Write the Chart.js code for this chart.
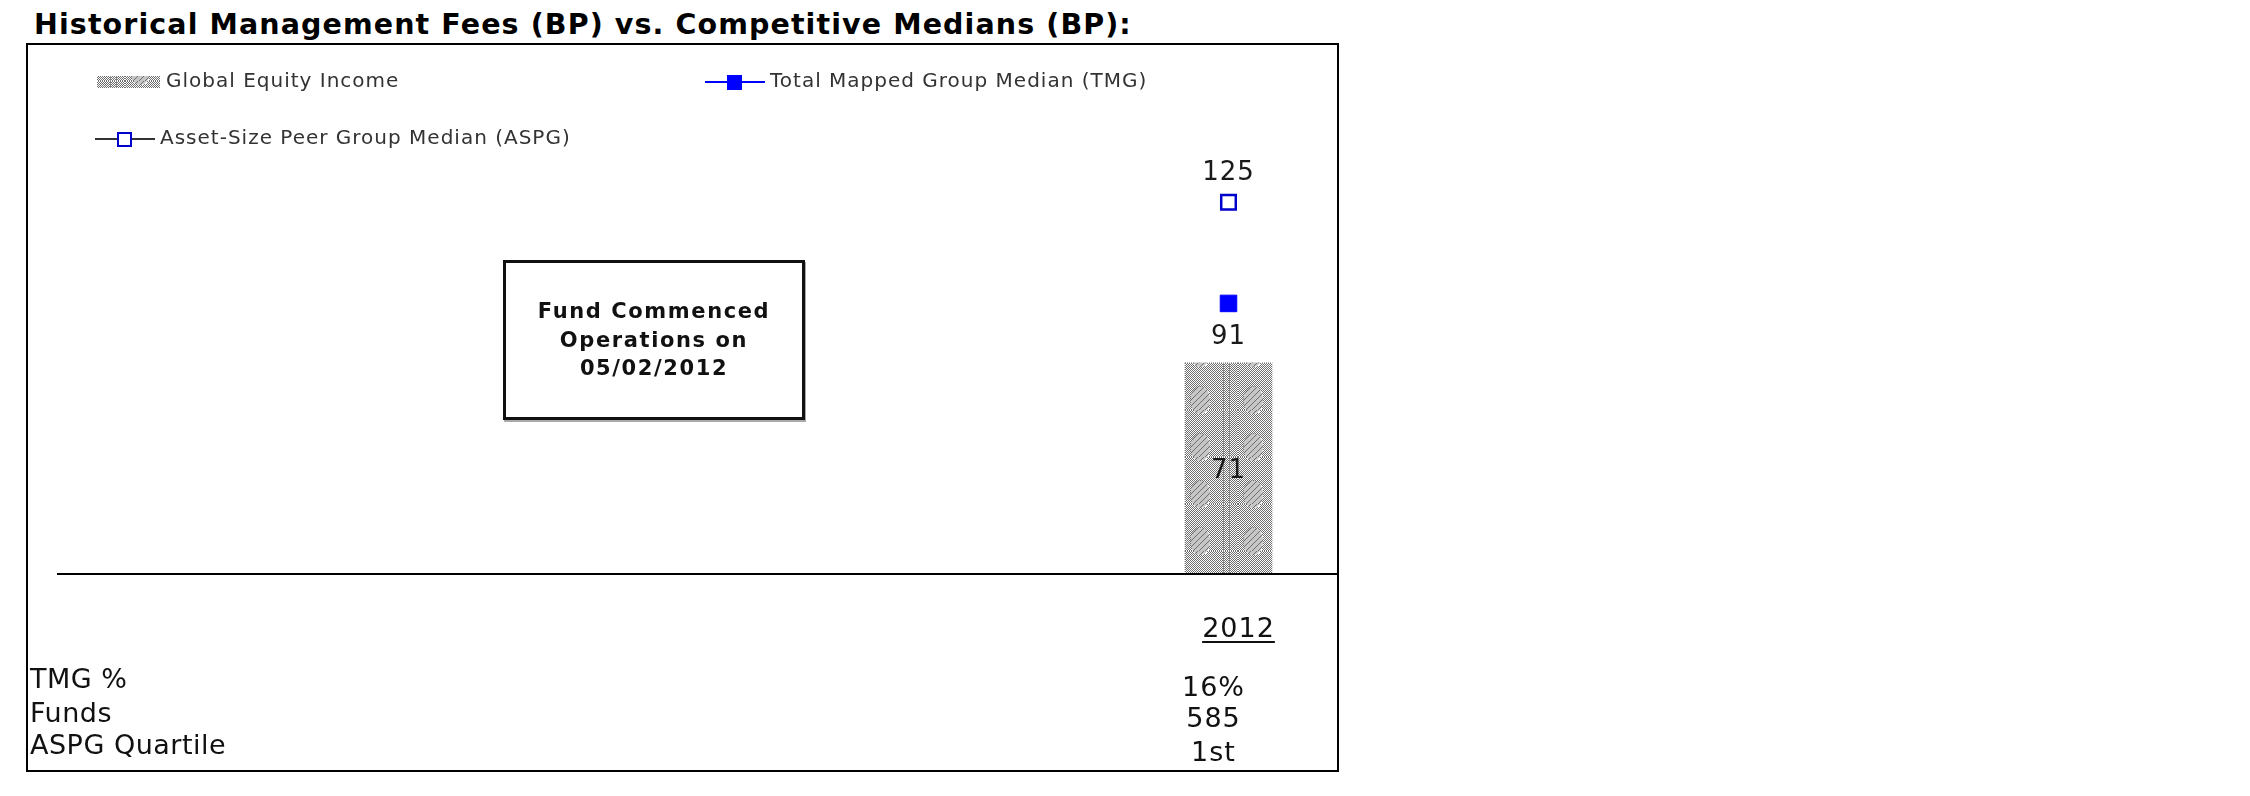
<!DOCTYPE html>
<html>
<head>
<meta charset="utf-8">
<script src="https://cdn.jsdelivr.net/npm/chart.js@4.4.1/dist/chart.umd.min.js"></script>
<style>
  html, body { margin: 0; padding: 0; background: #fff; }
  body { width: 2250px; height: 796px; position: relative; overflow: hidden; font-family: "DejaVu Sans", Verdana, sans-serif; }
  #title { position: absolute; left: 34px; top: 11px; font-size: 28.5px; line-height: 28.5px; font-weight: bold; letter-spacing: 1.1px; color: #000; white-space: nowrap; }
  #frame { position: absolute; left: 26px; top: 43px; width: 1309px; height: 725px; border: 2px solid #000; }
  #chart { position: absolute; left: 0; top: 0; }
  #note { position: absolute; left: 503px; top: 260px; width: 296px; height: 154px; border: 3px solid #111; box-shadow: 1px 2px 0 #aaa;
          display: flex; align-items: center; justify-content: center; text-align: center;
          font-weight: bold; font-size: 21px; line-height: 28.5px; letter-spacing: 1.6px; color: #111; }
</style>
</head>
<body>
<div id="title">Historical Management Fees (BP) vs. Competitive Medians (BP):</div>
<div id="frame"></div>
<canvas id="chart" width="2250" height="796"></canvas>
<div id="note">Fund Commenced<br>Operations on<br>05/02/2012</div>

<script>
// data
const years = ['2012'];
const fundFee = [71];
const tmgMedian = [91];
const aspgMedian = [125];

const rowLabels = ['TMG %', 'Funds', 'ASPG Quartile'];
const tmgPct = ['16%'];
const fundCount = ['585'];
const aspgQuartile = ['1st'];
const rowValues = [tmgPct, fundCount, aspgQuartile];

const FONT = '"DejaVu Sans", Verdana, sans-serif';

// grey dotted fill like the original bar
function makePattern() {
  const c = document.createElement('canvas');
  c.width = 53; c.height = 47;
  const g = c.getContext('2d');
  g.fillStyle = '#fff';
  g.fillRect(0, 0, c.width, c.height);
  g.fillStyle = '#c6c6c6';
  g.beginPath(); g.ellipse(15, 37, 10, 14, 0, 0, Math.PI * 2); g.fill();
  g.beginPath(); g.ellipse(15, -10, 10, 14, 0, 0, Math.PI * 2); g.fill();
  g.fillStyle = '#6e6e6e';
  for (let y = 0; y < c.height; y++) {
    for (let x = y % 2; x < c.width; x += 2) {
      const dx = (x - 15) / 10, dy1 = (y - 37) / 14, dy2 = (y + 10) / 14;
      const inBlob = dx * dx + dy1 * dy1 < 1 || dx * dx + dy2 * dy2 < 1;
      if (!inBlob || (x + y) % 6 === 0) g.fillRect(x, y, 1, 1);
    }
  }
  g.fillStyle = '#888';
  [38, 44].forEach(x => g.fillRect(x, 0, 1, c.height));
  return g.createPattern(c, 'repeat');
}
const barFill = makePattern();

// where each legend entry sits
const legendSpots = [[97, 82], [705, 82], [95, 139]];

const anchorPattern = {
  id: 'anchorPattern',
  beforeDatasetsDraw(chart) {
    const el = chart.getDatasetMeta(0).data[0];
    if (el && barFill.setTransform) {
      barFill.setTransform(new DOMMatrix([1, 0, 0, 1, Math.round(el.x - el.width / 2), Math.round(el.y)]));
    }
  }
};

const baseLine = {
  id: 'baseLine',
  afterDatasetsDraw(chart) {
    const { ctx, chartArea, scales } = chart;
    const y = Math.round(scales.y.getPixelForValue(0));
    ctx.save();
    ctx.strokeStyle = '#000';
    ctx.lineWidth = 2;
    ctx.beginPath();
    ctx.moveTo(57, y);
    ctx.lineTo(chartArea.right, y);
    ctx.stroke();
    ctx.restore();
  }
};

const valueLabels = {
  id: 'valueLabels',
  afterDatasetsDraw(chart) {
    const { ctx } = chart;
    ctx.save();
    ctx.font = '26px ' + FONT;
    ctx.letterSpacing = '1px';
    ctx.fillStyle = '#1a1a1a';
    ctx.textAlign = 'center';
    ctx.textBaseline = 'alphabetic';
    chart.data.datasets.forEach((ds, i) => {
      chart.getDatasetMeta(i).data.forEach((el, j) => {
        const y = ds.type === 'line' ? el.y : (el.y + el.base) / 2;
        ctx.fillText(String(ds.data[j]), el.x, y + ds.labelShift);
      });
    });
    ctx.restore();
  }
};

const sideLegend = {
  id: 'sideLegend',
  afterDraw(chart) {
    const { ctx } = chart;
    ctx.save();
    ctx.font = '20px ' + FONT;
    ctx.letterSpacing = '1px';
    ctx.textBaseline = 'middle';
    ctx.textAlign = 'left';
    chart.data.datasets.forEach((ds, i) => {
      const [x, y] = legendSpots[i];
      if (ds.type === 'line') {
        ctx.strokeStyle = ds.borderColor;
        ctx.lineWidth = 2;
        ctx.beginPath(); ctx.moveTo(x, y); ctx.lineTo(x + 60, y); ctx.stroke();
        ctx.fillStyle = ds.pointBackgroundColor;
        ctx.fillRect(x + 23, y - 6, 13, 13);
        ctx.strokeStyle = ds.pointBorderColor;
        ctx.lineWidth = 2;
        ctx.strokeRect(x + 23, y - 6, 13, 13);
        ctx.fillStyle = '#333';
        ctx.fillText(ds.label, x + 65, y);
      } else {
        ctx.fillStyle = barFill;
        ctx.fillRect(x, y - 6, 63, 12);
        ctx.fillStyle = '#333';
        ctx.fillText(ds.label, x + 69, y);
      }
    });
    ctx.restore();
  }
};

const underTable = {
  id: 'underTable',
  afterDraw(chart) {
    const { ctx, scales } = chart;
    ctx.save();
    ctx.fillStyle = '#111';
    ctx.textBaseline = 'alphabetic';
    years.forEach((yr, i) => {
      const px = scales.x.getPixelForValue(i);
      ctx.font = '27px ' + FONT;
      ctx.letterSpacing = '1px';
      ctx.textAlign = 'center';
      const cx = px + 10;
      ctx.fillText(yr, cx, 637);
      const w = ctx.measureText(yr).width;
      ctx.fillRect(cx - w / 2, 641, w, 2);
      rowValues.forEach((vals, r) => {
        ctx.fillText(vals[i], px - 15, [696, 727, 761][r]);
      });
    });
    ctx.font = '27px ' + FONT;
    ctx.letterSpacing = '0.5px';
    ctx.textAlign = 'left';
    rowLabels.forEach((lab, r) => ctx.fillText(lab, 30, [688, 722, 754][r]));
    ctx.restore();
  }
};

new Chart(document.getElementById('chart'), {
  type: 'bar',
  data: {
    labels: years,
    datasets: [
      { type: 'bar', label: 'Global Equity Income', data: fundFee, backgroundColor: barFill,
        borderWidth: 0, barThickness: 87, labelShift: 10, order: 3 },
      { type: 'line', label: 'Total Mapped Group Median (TMG)', data: tmgMedian, borderColor: '#0000ff',
        pointStyle: 'rect', pointRadius: 11.7, pointBorderWidth: 1, pointBackgroundColor: '#0000ff',
        pointBorderColor: '#0000ff', showLine: false, labelShift: 41, order: 2 },
      { type: 'line', label: 'Asset-Size Peer Group Median (ASPG)', data: aspgMedian, borderColor: '#333',
        pointStyle: 'rect', pointRadius: 10.3, pointBorderWidth: 2.5, pointBackgroundColor: '#fff',
        pointBorderColor: '#0000cc', showLine: false, labelShift: -22, order: 1 }
    ]
  },
  options: {
    responsive: false,
    animation: false,
    events: [],
    layout: { padding: { left: 1119, right: 912, top: 128, bottom: 222 } },
    plugins: { legend: { display: false }, tooltip: { enabled: false } },
    scales: {
      x: { display: false },
      y: { display: false, min: 0, max: 150 }
    }
  },
  plugins: [anchorPattern, baseLine, valueLabels, sideLegend, underTable]
});
</script>
</body>
</html>
